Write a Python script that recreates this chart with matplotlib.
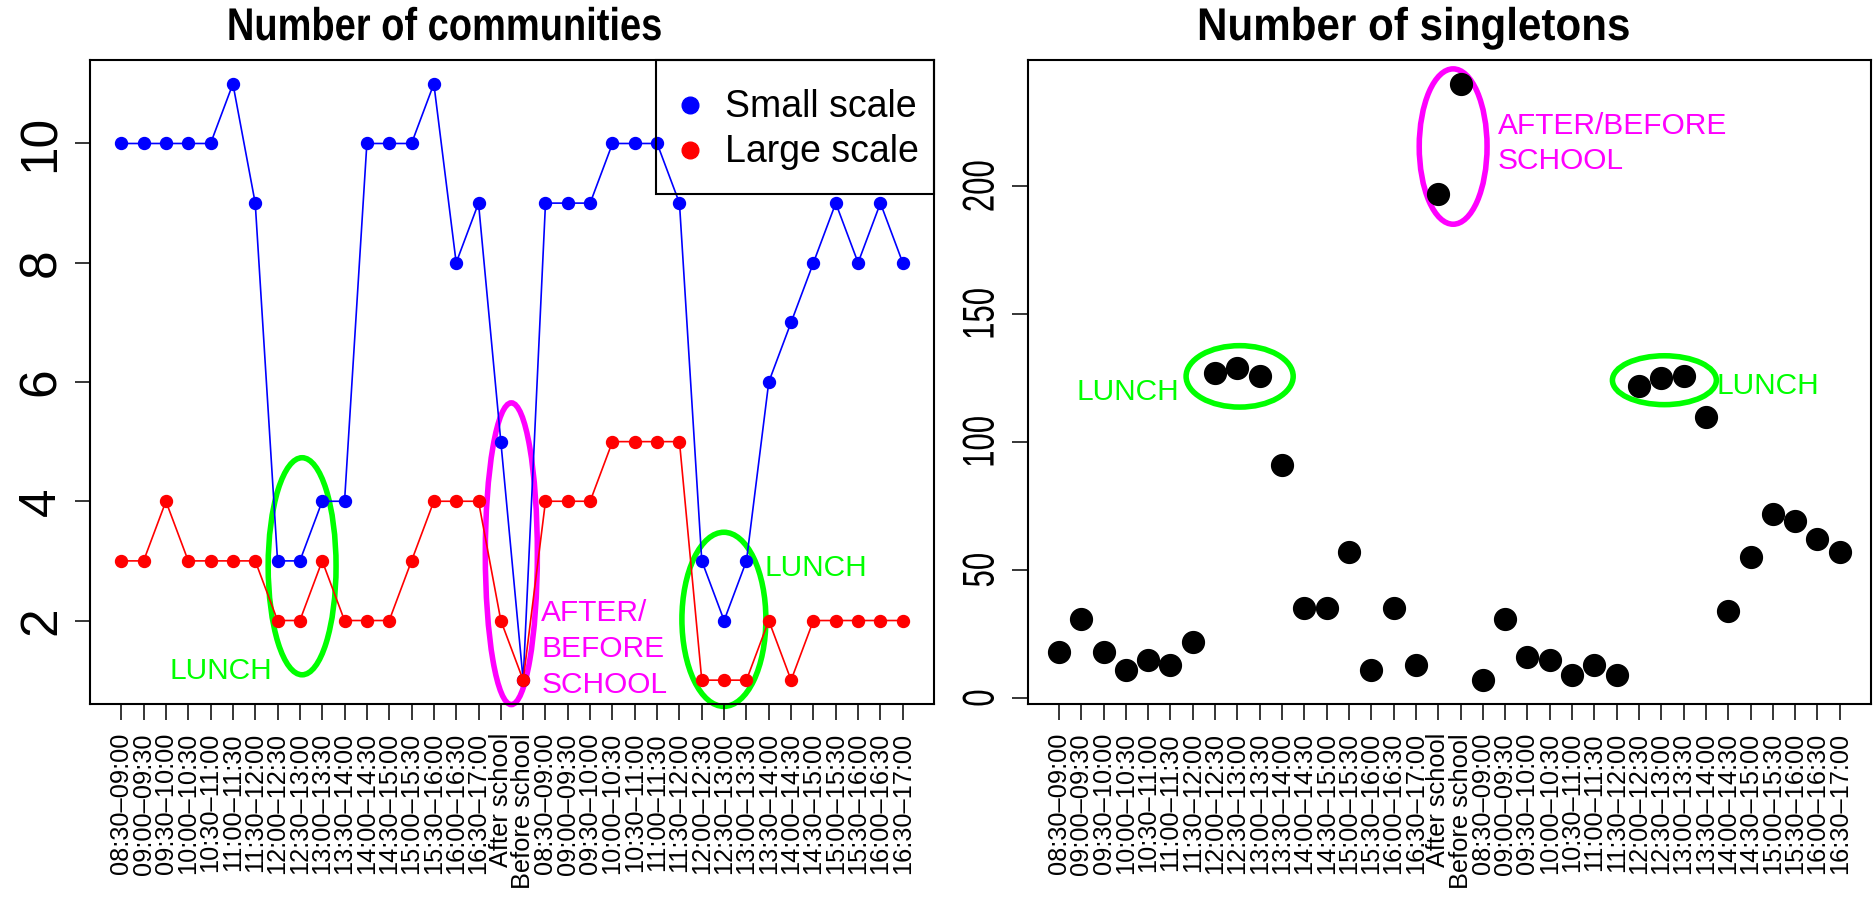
import matplotlib
matplotlib.use("Agg")
import matplotlib.pyplot as plt
from matplotlib.patches import Ellipse, Rectangle
from matplotlib.lines import Line2D
from matplotlib.patheffects import AbstractPathEffect
from matplotlib.transforms import Affine2D

plt.rcParams['font.family'] = ['Liberation Sans', 'DejaVu Sans']

# ---------------- data ----------------
day_slots = ["08:30\u201309:00", "09:00\u201309:30", "09:30\u201310:00", "10:00\u201310:30",
             "10:30\u201311:00", "11:00\u201311:30", "11:30\u201312:00", "12:00\u201312:30",
             "12:30\u201313:00", "13:00\u201313:30", "13:30\u201314:00", "14:00\u201314:30",
             "14:30\u201315:00", "15:00\u201315:30", "15:30\u201316:00", "16:00\u201316:30",
             "16:30\u201317:00"]
tick_labels = day_slots + ["After school", "Before school"] + day_slots

small_scale = [10, 10, 10, 10, 10, 11, 9, 3, 3, 4, 4, 10, 10, 10, 11, 8, 9,
               5, 1,
               9, 9, 9, 10, 10, 10, 9, 3, 2, 3, 6, 7, 8, 9, 8, 9, 8]
large_scale = [3, 3, 4, 3, 3, 3, 3, 2, 2, 3, 2, 2, 2, 3, 4, 4, 4,
               2, 1,
               4, 4, 4, 5, 5, 5, 5, 1, 1, 1, 2, 1, 2, 2, 2, 2, 2]
singletons = [18, 31, 18, 11, 15, 13, 22, 127, 129, 126, 91, 35, 35, 57, 11, 35, 13,
              197, 240,
              7, 31, 16, 15, 9, 13, 9, 122, 125, 126, 110, 34, 55, 72, 69, 62, 57]

xpos = list(range(1, len(tick_labels) + 1))

BLUE = "#0000FF"
RED = "#FF0000"
GREEN = "#00FF00"
MAGENTA = "#FF00FF"

W, H = 1875, 900
fig = plt.figure(figsize=(W / 100, H / 100), dpi=100)


class Condense(AbstractPathEffect):
    """Squeeze glyphs along the text direction (about the text centre)."""

    def __init__(self, sx):
        super().__init__()
        self.sx = sx

    def draw_path(self, renderer, gc, tpath, affine, rgbFace=None):
        ext = tpath.get_extents()
        cx = (ext.x0 + ext.x1) / 2
        t = Affine2D().translate(-cx, 0).scale(self.sx, 1).translate(cx, 0)
        renderer.draw_path(gc, tpath, t + affine, rgbFace)


def r_lim(vals):
    lo, hi = min(vals), max(vals)
    d = (hi - lo) * 0.04
    return lo - d, hi + d


def fx(px):
    return px / W


def fy(py):
    return 1 - py / H


ax1 = fig.add_axes([fx(90), fy(704), (934 - 90) / W, (704 - 60) / H])
ax2 = fig.add_axes([fx(1027.7), fy(704), (1871 - 1027.7) / W, (704 - 60) / H])

for ax in (ax1, ax2):
    for s in ax.spines.values():
        s.set_linewidth(1.5)
        s.set_color("black")
    ax.set_xlim(r_lim(xpos))
    ax.set_xticks(xpos)
    ax.set_xticklabels(tick_labels, rotation=90, fontsize=18.3, va="top", ha="center")
    ax.tick_params(axis="x", length=11.5, width=1.1, pad=9.4)
    ax.tick_params(axis="y", width=1.1)

# ---------------- left panel ----------------
ax1.plot(xpos, small_scale, color=BLUE, lw=1.2, marker="o", ms=8.6, mec=BLUE, mfc=BLUE)
ax1.plot(xpos, large_scale, color=RED, lw=1.2, marker="o", ms=8.6, mec=RED, mfc=RED)
ax1.set_ylim(r_lim(small_scale + large_scale))
ax1.set_yticks([2, 4, 6, 8, 10])
ax1.set_yticklabels(["2", "4", "6", "8", "10"], rotation=90, va="center", fontsize=37)
ax1.tick_params(axis="y", length=10.8, pad=6.5)

ell_lw = 4.0
for (cx, cy, w, h, c) in [(9.10, 2.91, 3.04, 3.64, GREEN),
                          (18.47, 3.12, 2.33, 5.06, MAGENTA),
                          (27.99, 2.02, 3.76, 2.92, GREEN)]:
    ax1.add_patch(Ellipse((cx, cy), w, h, fill=False, ec=c, lw=ell_lw, clip_on=False))

ax1.text(5.44, 1.16, "LUNCH", color=GREEN, fontsize=21.5, ha="center", va="center")
ax1.text(29.83, 2.88, "LUNCH", color=GREEN, fontsize=21.5, ha="left", va="center")
for yv, t in [(2.13, "AFTER/"), (1.53, "BEFORE"), (0.92, "SCHOOL")]:
    ax1.text(19.81, yv, t, color=MAGENTA, fontsize=21.5, ha="left", va="center")

title1 = fig.text(fx(445), fy(40), "Number of communities", fontsize=33, fontweight="bold",
                  ha="center", va="baseline")

# legend (manual, R style)
fig.patches.append(Rectangle((fx(656), fy(194.3)), (934 - 656) / W, (194.3 - 60) / H,
                             transform=fig.transFigure, fill=False, ec="black", lw=1.5))
for py, c, lab in [(105, BLUE, "Small scale"), (150, RED, "Large scale")]:
    fig.lines.append(Line2D([fx(690)], [fy(py)], transform=fig.transFigure, marker="o",
                            ms=12, mfc=c, mec=c, ls="none"))
    fig.text(fx(725), fy(py + 12), lab, fontsize=27, ha="left", va="baseline")

# ---------------- right panel ----------------
ax2.plot(xpos, singletons, ls="none", marker="o", ms=15.7, mfc="black", mec="black")
ax2.set_ylim(r_lim(singletons))
ax2.set_yticks([0, 50, 100, 150, 200])
ax2.set_yticklabels(["0", "50", "100", "150", "200"], rotation=90, va="center", fontsize=32)
ax2.tick_params(axis="y", length=11.3, pad=6.8)

for (cx, cy, w, h, c) in [(9.10, 125.7, 4.80, 24.0, GREEN),
                          (18.67, 215.5, 3.04, 60.7, MAGENTA),
                          (28.14, 124.2, 4.66, 19.1, GREEN)]:
    ax2.add_patch(Ellipse((cx, cy), w, h, fill=False, ec=c, lw=ell_lw, clip_on=False))

ax2.text(4.08, 119.6, "LUNCH", color=GREEN, fontsize=21.5, ha="center", va="center")
ax2.text(30.47, 121.8, "LUNCH", color=GREEN, fontsize=21.5, ha="left", va="center")
ax2.text(20.68, 223.6, "AFTER/BEFORE", color=MAGENTA, fontsize=21.5, ha="left", va="center")
ax2.text(20.68, 209.8, "SCHOOL", color=MAGENTA, fontsize=21.5, ha="left", va="center")

title2 = fig.text(fx(1414), fy(40), "Number of singletons", fontsize=33, fontweight="bold",
                  ha="center", va="baseline")

title1.set_path_effects([Condense(0.83)])
title2.set_path_effects([Condense(0.92)])
for lbl in ax2.get_yticklabels():
    lbl.set_path_effects([Condense(0.7)])

fig.savefig("out.png", dpi=100)
